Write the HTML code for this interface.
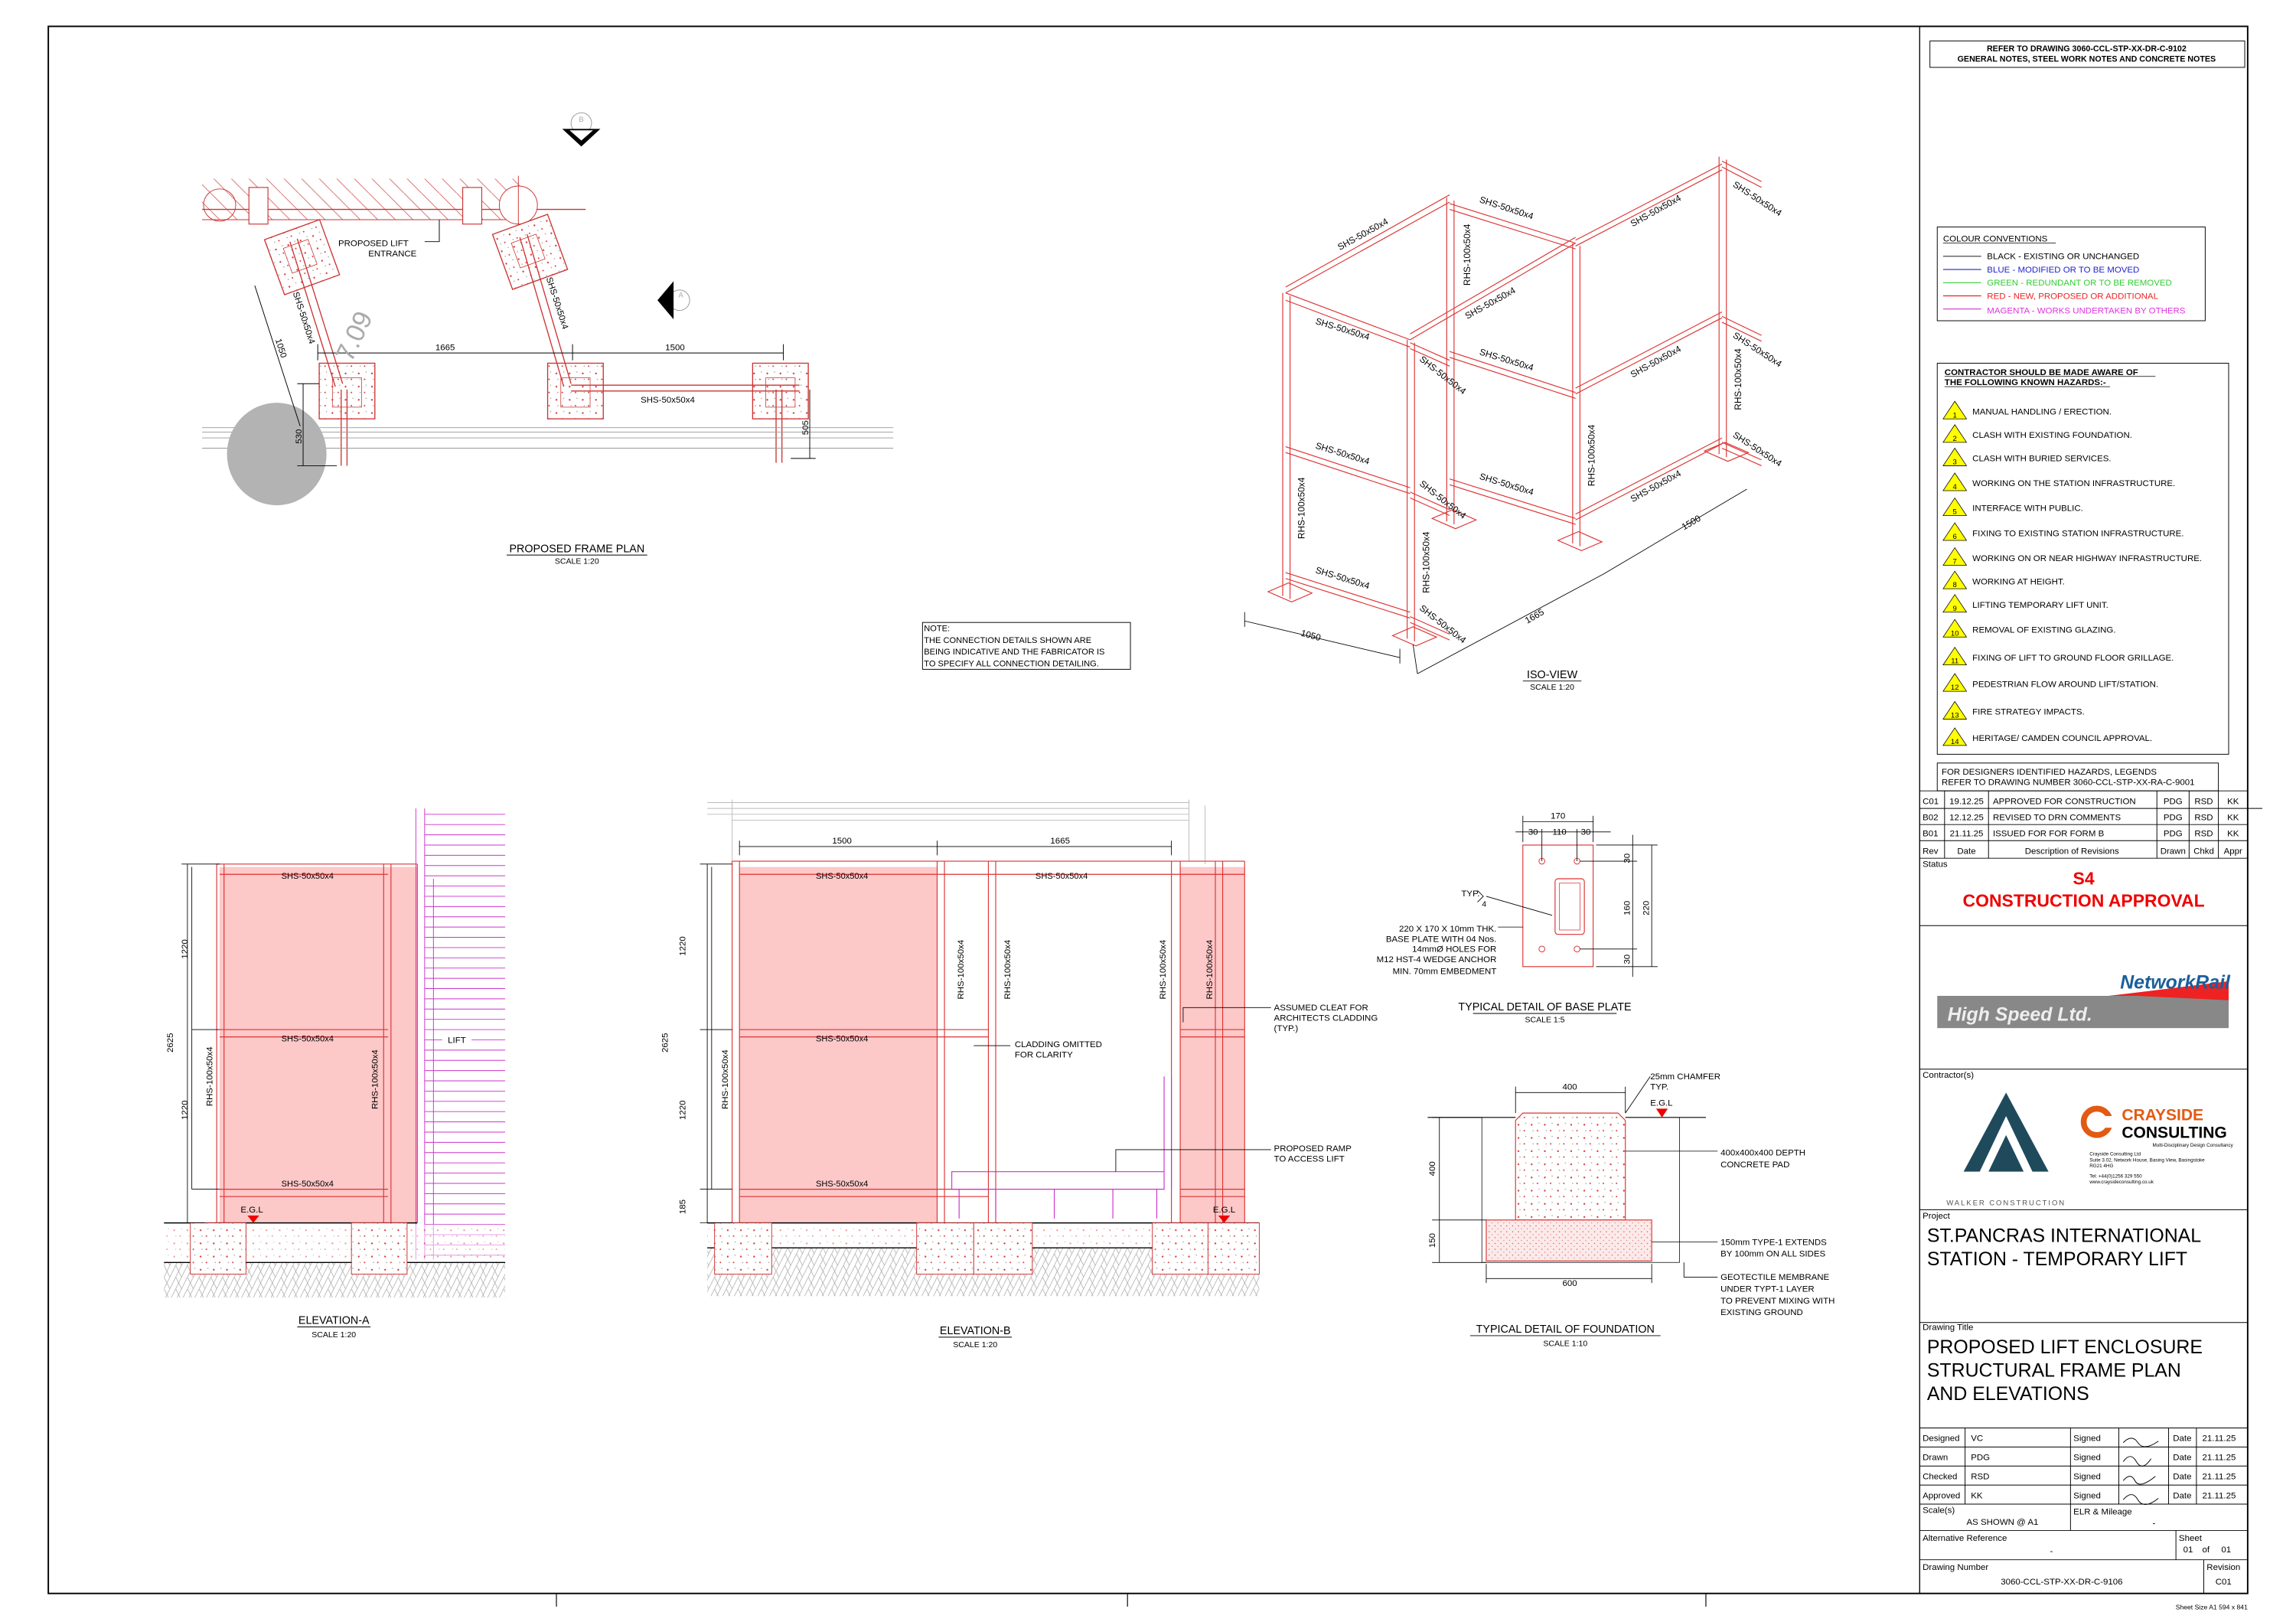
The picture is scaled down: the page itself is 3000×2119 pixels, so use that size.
<!DOCTYPE html>
<html><head><meta charset="utf-8"><style>
html,body{margin:0;padding:0;background:#fff}
svg{display:block}
text{font-family:"Liberation Sans",sans-serif}
</style></head><body>
<svg width="3000" height="2119" viewBox="0 0 1568 1107.5" preserveAspectRatio="none" xmlns="http://www.w3.org/2000/svg">
<defs>
<pattern id="hatch" width="8" height="8" patternUnits="userSpaceOnUse"><path d="M0 8L4 0M4 8L8 0M0 0L4 8" stroke="#aaa" stroke-width="0.4" fill="none"/></pattern>
<pattern id="conc" width="9" height="9" patternUnits="userSpaceOnUse"><rect width="9" height="9" fill="#fff"/><circle cx="2" cy="3" r="0.6" fill="#d33"/><circle cx="6" cy="7" r="0.5" fill="#d33"/><circle cx="7" cy="2" r="0.4" fill="#999"/><circle cx="3" cy="7" r="0.4" fill="#999"/></pattern>
<pattern id="fine" width="4" height="4" patternUnits="userSpaceOnUse"><rect width="4" height="4" fill="#fbeaea"/><circle cx="1" cy="1" r="0.4" fill="#d55"/><circle cx="3" cy="3" r="0.3" fill="#d55"/></pattern>
<pattern id="whatch" width="12" height="12" patternUnits="userSpaceOnUse"><path d="M0 0L12 12" stroke="#c44" stroke-width="0.5"/></pattern>
</defs>
<rect width="1568" height="1107.5" fill="#fff"/>
<!-- main border -->
<rect x="33" y="18" width="1502" height="1070" fill="none" stroke="#000" stroke-width="1"/>
<line x1="1311" y1="18" x2="1311" y2="1088" stroke="#000" stroke-width="0.7"/>
<g stroke="#000" stroke-width="0.6"><line x1="380" y1="1088" x2="380" y2="1097"/><line x1="770" y1="1088" x2="770" y2="1097"/><line x1="1165" y1="1088" x2="1165" y2="1097"/></g>
<text x="1535" y="1099" font-size="4.5" text-anchor="end">Sheet Size A1 594 x 841</text>

<!-- ========== PLAN ========== -->
<g>
<rect x="138" y="122" width="217" height="28" fill="url(#whatch)" opacity="0.8"/>
<line x1="138" y1="143" x2="400" y2="143" stroke="#c33" stroke-width="0.7"/>
<line x1="138" y1="150" x2="355" y2="150" stroke="#c33" stroke-width="0.5"/>
<circle cx="150" cy="140" r="11" fill="none" stroke="#c33" stroke-width="0.5"/>
<circle cx="354" cy="140" r="13" fill="#fff" stroke="#c33" stroke-width="0.5"/>
<rect x="170" y="128" width="13" height="25" fill="#fff" stroke="#c33" stroke-width="0.6"/>
<rect x="316" y="128" width="13" height="25" fill="#fff" stroke="#c33" stroke-width="0.6"/>
<line x1="354" y1="120" x2="354" y2="160" stroke="#c33" stroke-width="0.5"/>
<g transform="rotate(-20 205 175)"><rect x="186" y="156" width="40" height="40" fill="url(#conc)" stroke="#c33" stroke-width="0.7"/><rect x="196" y="166" width="18" height="18" fill="none" stroke="#c33" stroke-width="0.4"/></g>
<g transform="rotate(-20 362 172)"><rect x="342" y="152" width="40" height="40" fill="url(#conc)" stroke="#c33" stroke-width="0.7"/><rect x="352" y="162" width="18" height="18" fill="none" stroke="#c33" stroke-width="0.4"/></g>
<rect x="218" y="248" width="38" height="38" fill="url(#conc)" stroke="#c33" stroke-width="0.7"/>
<rect x="227" y="258" width="20" height="20" fill="none" stroke="#c33" stroke-width="0.4"/>
<rect x="374" y="248" width="38" height="38" fill="url(#conc)" stroke="#c33" stroke-width="0.7"/>
<rect x="383" y="258" width="20" height="20" fill="none" stroke="#c33" stroke-width="0.4"/>
<rect x="514" y="248" width="38" height="38" fill="url(#conc)" stroke="#c33" stroke-width="0.7"/>
<rect x="523" y="258" width="20" height="20" fill="none" stroke="#c33" stroke-width="0.4"/>
<g stroke="#c33" stroke-width="0.7" fill="none">
<line x1="198" y1="165" x2="229" y2="264"/><line x1="203" y1="163" x2="234" y2="262"/>
<line x1="355" y1="162" x2="385" y2="264"/><line x1="360" y1="160" x2="390" y2="262"/>
<line x1="390" y1="263" x2="546" y2="263"/><line x1="390" y1="267" x2="546" y2="267"/>
<line x1="233" y1="266" x2="233" y2="318"/><line x1="237" y1="266" x2="237" y2="318"/>
<line x1="530" y1="266" x2="530" y2="316"/><line x1="534" y1="266" x2="534" y2="316"/>
</g>
<g stroke="#999" stroke-width="0.5"><line x1="138" y1="292" x2="610" y2="292"/><line x1="138" y1="295" x2="610" y2="295"/><line x1="138" y1="299" x2="610" y2="299"/><line x1="138" y1="306" x2="610" y2="306"/></g>
<ellipse cx="189" cy="310" rx="34" ry="35" fill="#b3b3b3"/>
<g stroke="#000" stroke-width="0.5" fill="none">
<line x1="217" y1="241" x2="535" y2="241"/><line x1="217" y1="235" x2="217" y2="246"/><line x1="391" y1="235" x2="391" y2="246"/><line x1="535" y1="235" x2="535" y2="246"/>
<line x1="174" y1="195" x2="205" y2="291"/>
<line x1="207" y1="262" x2="207" y2="318"/><line x1="203" y1="262" x2="218" y2="262"/><line x1="203" y1="318" x2="230" y2="318"/>
<line x1="553" y1="266" x2="553" y2="313"/><line x1="540" y1="313" x2="557" y2="313"/>
</g>
<text x="304" y="239" font-size="6" text-anchor="middle">1665</text>
<text x="461" y="239" font-size="6" text-anchor="middle">1500</text>
<text x="188" y="232" font-size="6" transform="rotate(72 188 232)">1050</text>
<text x="206" y="298" font-size="6" transform="rotate(-90 206 298)" text-anchor="middle">530</text>
<text x="552" y="292" font-size="6" transform="rotate(-90 552 292)" text-anchor="middle">505</text>
<text x="200" y="200" font-size="6" transform="rotate(72 200 200)">SHS-50x50x4</text>
<text x="373" y="190" font-size="6" transform="rotate(72 373 190)">SHS-50x50x4</text>
<text x="456" y="275" font-size="6" text-anchor="middle">SHS-50x50x4</text>
<text x="255" y="168" font-size="6" text-anchor="middle">PROPOSED LIFT</text>
<text x="268" y="175" font-size="6" text-anchor="middle">ENTRANCE</text>
<path d="M290 165H300V150" stroke="#000" stroke-width="0.5" fill="none"/>
<text x="240" y="248" font-size="18" fill="#aaa" transform="rotate(-65 240 248)">7.09</text>
<circle cx="397" cy="84" r="7" fill="none" stroke="#999" stroke-width="0.5"/>
<path d="M384 88L410 88L397 100Z" fill="#000"/><path d="M389 89L405 89L397 96Z" fill="#fff"/>
<text x="397" y="83" font-size="5" text-anchor="middle" fill="#aaa">B</text>
<circle cx="464" cy="205" r="7" fill="none" stroke="#999" stroke-width="0.5"/>
<path d="M460 192L460 218L449 205Z" fill="#000"/>
<text x="465" y="203" font-size="5" text-anchor="middle" fill="#aaa">A</text>
<text x="394" y="377" font-size="7.5" text-anchor="middle">PROPOSED FRAME PLAN</text>
<line x1="346" y1="379" x2="442" y2="379" stroke="#000" stroke-width="0.5"/>
<text x="394" y="385" font-size="5.5" text-anchor="middle">SCALE 1:20</text>
</g>

<!-- NOTE -->
<g>
<rect x="630" y="425" width="142" height="32" fill="none" stroke="#000" stroke-width="0.5"/>
<text font-size="5.8"><tspan x="631" y="431">NOTE:</tspan><tspan x="631" y="439">THE CONNECTION DETAILS SHOWN ARE</tspan><tspan x="631" y="447">BEING INDICATIVE AND THE FABRICATOR IS</tspan><tspan x="631" y="455">TO SPECIFY ALL CONNECTION DETAILING.</tspan></text>
</g>

<!-- ========== ISO VIEW ========== -->
<g stroke="#d33" stroke-width="0.6" fill="none">
<!-- posts -->
<path d="M876 200V407M881 202V409"/>
<path d="M961 232V436M966 234V438"/>
<path d="M988 135V356M993 137V358"/>
<path d="M1074 166V371M1079 168V373"/>
<path d="M1174 107V310M1179 109V312"/>
<!-- face A-B rails -->
<path d="M878 200L963 232M878 205L963 237"/>
<path d="M878 305L963 333M878 309L963 337"/>
<path d="M878 391L963 418M878 395L963 422"/>
<!-- A-C top -->
<path d="M878 200L990 138M878 196L990 133"/>
<!-- C-D rails -->
<path d="M990 139L1076 166M990 143L1076 170"/>
<path d="M990 240L1076 268M990 244L1076 272"/>
<path d="M990 327L1076 354M990 331L1076 358"/>
<!-- B-D top -->
<path d="M963 232L1076 166M963 228L1076 162"/>
<!-- D-E rails -->
<path d="M1076 164L1176 112M1076 168L1176 116"/>
<path d="M1076 265L1176 213M1076 269L1176 217"/>
<path d="M1076 351L1176 299M1076 355L1176 303"/>
<!-- stubs -->
<path d="M1176 110L1203 124M1176 114L1203 128"/>
<path d="M1176 216L1203 229M1176 220L1203 233"/>
<path d="M1176 302L1203 314M1176 306L1203 318"/>
<path d="M963 234L990 246M963 238L990 250"/>
<path d="M963 336L990 348M963 340L990 352"/>
<path d="M963 421L990 433M963 425L990 437"/>
<!-- base plates -->
<path d="M866 404L880 398L896 405L882 411Z"/>
<path d="M951 434L965 428L981 435L967 441Z"/>
<path d="M978 354L992 348L1008 355L994 361Z"/>
<path d="M1064 369L1078 363L1094 370L1080 376Z"/>
<path d="M1164 308L1178 302L1194 309L1180 315Z"/>
</g>
<g stroke="#000" stroke-width="0.45" fill="none">
<path d="M850 424L956 449"/><path d="M850 418L850 428M956 443L956 453"/>
<path d="M968 460L1095 392M1095 392L1193 334"/><path d="M965 440L968 460"/>
</g>
<g font-size="6.2" fill="#000">
<text x="915" y="171" transform="rotate(-29 915 171)">SHS-50x50x4</text>
<text x="1010" y="138" transform="rotate(18 1010 138)">SHS-50x50x4</text>
<text x="1115" y="155" transform="rotate(-29 1115 155)">SHS-50x50x4</text>
<text x="1183" y="127" transform="rotate(33 1183 127)">SHS-50x50x4</text>
<text x="898" y="221" transform="rotate(17 898 221)">SHS-50x50x4</text>
<text x="1002" y="218" transform="rotate(-29 1002 218)">SHS-50x50x4</text>
<text x="969" y="246" transform="rotate(38 969 246)">SHS-50x50x4</text>
<text x="1010" y="242" transform="rotate(17 1010 242)">SHS-50x50x4</text>
<text x="1115" y="258" transform="rotate(-29 1115 258)">SHS-50x50x4</text>
<text x="1183" y="230" transform="rotate(33 1183 230)">SHS-50x50x4</text>
<text x="898" y="306" transform="rotate(17 898 306)">SHS-50x50x4</text>
<text x="969" y="331" transform="rotate(38 969 331)">SHS-50x50x4</text>
<text x="1010" y="327" transform="rotate(17 1010 327)">SHS-50x50x4</text>
<text x="1115" y="343" transform="rotate(-29 1115 343)">SHS-50x50x4</text>
<text x="1183" y="298" transform="rotate(33 1183 298)">SHS-50x50x4</text>
<text x="898" y="391" transform="rotate(17 898 391)">SHS-50x50x4</text>
<text x="969" y="416" transform="rotate(38 969 416)">SHS-50x50x4</text>
<text x="1004" y="195" transform="rotate(-90 1004 195)">RHS-100x50x4</text>
<text x="891" y="368" transform="rotate(-90 891 368)">RHS-100x50x4</text>
<text x="976" y="405" transform="rotate(-90 976 405)">RHS-100x50x4</text>
<text x="1089" y="332" transform="rotate(-90 1089 332)">RHS-100x50x4</text>
<text x="1189" y="280" transform="rotate(-90 1189 280)">RHS-100x50x4</text>
<text x="888" y="434" transform="rotate(15 888 434)">1050</text>
<text x="1043" y="426" transform="rotate(-30 1043 426)">1665</text>
<text x="1150" y="362" transform="rotate(-30 1150 362)">1500</text>
</g>
<text x="1060" y="463" font-size="7.5" text-anchor="middle">ISO-VIEW</text>
<line x1="1040" y1="465" x2="1080" y2="465" stroke="#000" stroke-width="0.5"/>
<text x="1060" y="471" font-size="5.5" text-anchor="middle">SCALE 1:20</text>

<!-- ========== ELEVATION A ========== -->
<g>
<rect x="150" y="592" width="135" height="243" fill="#fcc8c8"/>
<g stroke="#d33" stroke-width="0.6" fill="none">
<path d="M148 590V835M153 590V835M262 590V835M267 590V835M285 590V835"/>
<path d="M148 590H285M150 597H265M150 703H265M150 708H265M150 812H265M150 817H265"/>
</g>
<g stroke="#c3c" stroke-width="0.5">
<path d="M284 552V860M290 552V860M296 600V860"/>
<path d="M290 556H345M290 563H345M290 570H345M290 577H345M290 584H345M290 591H345M290 598H345M290 605H345M290 612H345M290 619H345M290 626H345M290 633H345M290 640H345M290 647H345M290 654H345M290 661H345M290 668H345M290 675H345M290 682H345M290 689H345M290 696H345M290 703H345M290 710H345M290 717H345M290 724H345M290 731H345M290 738H345M290 745H345M290 752H345M290 759H345M290 766H345M290 773H345M290 780H345M290 787H345M290 794H345M290 801H345M290 808H345M290 815H345M290 822H345M290 829H345M290 836H345M290 843H345M290 850H345M290 857H345"/>
</g>
<rect x="112" y="862" width="233" height="24" fill="url(#hatch)"/>
<rect x="112" y="836" width="233" height="26" fill="url(#conc)" opacity="0.5"/>
<line x1="112" y1="835" x2="285" y2="835" stroke="#000" stroke-width="0.8"/>
<line x1="112" y1="862" x2="345" y2="862" stroke="#000" stroke-width="0.7"/>
<rect x="130" y="835" width="38" height="35" fill="url(#conc)" stroke="#c33" stroke-width="0.5"/>
<rect x="240" y="835" width="38" height="35" fill="url(#conc)" stroke="#c33" stroke-width="0.5"/>
<g stroke="#000" stroke-width="0.45"><path d="M128 590V835M124 590H150M124 835H140M131 703H150M131 812H150M128 590L128 835M131 592V812"/></g>
<rect x="302" y="706" width="20" height="8" fill="#fff"/><text x="312" y="712" font-size="6" text-anchor="middle">LIFT</text>
<g font-size="5.8"><text x="210" y="600" text-anchor="middle">SHS-50x50x4</text><text x="210" y="711" text-anchor="middle">SHS-50x50x4</text><text x="210" y="810" text-anchor="middle">SHS-50x50x4</text></g>
<g font-size="6"><text x="118" y="712" transform="rotate(-90 118 712)" text-anchor="middle">2625</text><text x="128" y="648" transform="rotate(-90 128 648)" text-anchor="middle">1220</text><text x="128" y="758" transform="rotate(-90 128 758)" text-anchor="middle">1220</text>
<text x="145" y="735" transform="rotate(-90 145 735)" text-anchor="middle">RHS-100x50x4</text><text x="258" y="737" transform="rotate(-90 258 737)" text-anchor="middle">RHS-100x50x4</text></g>
<text x="172" y="828" font-size="6" text-anchor="middle">E.G.L</text><path d="M169 830H177L173 835Z" fill="#e00"/>
<text x="228" y="904" font-size="7.5" text-anchor="middle">ELEVATION-A</text>
<line x1="203" y1="906" x2="253" y2="906" stroke="#000" stroke-width="0.5"/>
<text x="228" y="913" font-size="5.5" text-anchor="middle">SCALE 1:20</text>
</g>

<!-- ========== ELEVATION B ========== -->
<g>
<g stroke="#bbb" stroke-width="0.5" fill="none"><path d="M483 548H812M483 552H812M483 556H812M500 560H812M500 546V588M812 546V588M823 550V590"/></g>
<rect x="505" y="592" width="135" height="243" fill="#fcc8c8"/>
<rect x="806" y="592" width="44" height="243" fill="#fcc8c8"/>
<g stroke="#d33" stroke-width="0.6" fill="none">
<path d="M500 588V835M505 588V835M640 588V835M645 588V835M675 588V835M680 588V835M800 588V835M806 588V835M830 588V835M835 588V835M850 588V835"/>
<path d="M500 588H850M505 597H850M505 703H675M505 708H675M806 703H850M806 708H850M505 812H675M505 817H675M806 812H850M806 817H850"/>
</g>
<g stroke="#c3c" stroke-width="0.6" fill="none"><path d="M650 800H795V812H650ZM655 812V832M680 812V832M720 812V832M760 812V832M790 812V832M795 735V812M800 735V812"/></g>
<rect x="483" y="852" width="377" height="33" fill="url(#hatch)"/>
<rect x="483" y="836" width="377" height="16" fill="url(#conc)" opacity="0.5"/>
<line x1="483" y1="835" x2="860" y2="835" stroke="#000" stroke-width="0.8"/>
<line x1="483" y1="852" x2="860" y2="852" stroke="#000" stroke-width="0.7"/>
<g fill="url(#conc)" stroke="#c33" stroke-width="0.5"><rect x="488" y="835" width="39" height="35"/><rect x="626" y="835" width="39" height="35"/><rect x="665" y="835" width="40" height="35"/><rect x="787" y="835" width="38" height="35"/><rect x="825" y="835" width="35" height="35"/></g>
<g stroke="#000" stroke-width="0.45" fill="none"><path d="M505 578H800M505 574V584M640 574V584M800 574V584M483 590V835M478 590H500M478 703H500M478 812H500M478 835H500M486 592V812"/></g>
<g font-size="6"><text x="575" y="576" text-anchor="middle">1500</text><text x="724" y="576" text-anchor="middle">1665</text>
<text x="456" y="712" transform="rotate(-90 456 712)" text-anchor="middle">2625</text>
<text x="468" y="646" transform="rotate(-90 468 646)" text-anchor="middle">1220</text>
<text x="468" y="758" transform="rotate(-90 468 758)" text-anchor="middle">1220</text>
<text x="468" y="824" transform="rotate(-90 468 824)" text-anchor="middle">185</text>
<text x="497" y="737" transform="rotate(-90 497 737)" text-anchor="middle">RHS-100x50x4</text>
<text x="658" y="662" transform="rotate(-90 658 662)" text-anchor="middle">RHS-100x50x4</text>
<text x="690" y="662" transform="rotate(-90 690 662)" text-anchor="middle">RHS-100x50x4</text>
<text x="796" y="662" transform="rotate(-90 796 662)" text-anchor="middle">RHS-100x50x4</text>
<text x="828" y="662" transform="rotate(-90 828 662)" text-anchor="middle">RHS-100x50x4</text>
</g>
<g font-size="5.8"><text x="575" y="600" text-anchor="middle">SHS-50x50x4</text><text x="725" y="600" text-anchor="middle">SHS-50x50x4</text><text x="575" y="711" text-anchor="middle">SHS-50x50x4</text><text x="575" y="810" text-anchor="middle">SHS-50x50x4</text></g>
<g stroke="#000" stroke-width="0.45" fill="none"><path d="M690 714H665M868 688H808V698M868 785H762V800"/></g>
<g font-size="6"><text x="693" y="715">CLADDING OMITTED</text><text x="693" y="722">FOR CLARITY</text>
<text x="870" y="690">ASSUMED CLEAT FOR</text><text x="870" y="697">ARCHITECTS CLADDING</text><text x="870" y="704">(TYP.)</text>
<text x="870" y="786">PROPOSED RAMP</text><text x="870" y="793">TO ACCESS LIFT</text></g>
<text x="836" y="828" font-size="6" text-anchor="middle">E.G.L</text><path d="M832 830H840L836 835Z" fill="#e00"/>
<text x="666" y="911" font-size="7.5" text-anchor="middle">ELEVATION-B</text>
<line x1="641" y1="913" x2="691" y2="913" stroke="#000" stroke-width="0.5"/>
<text x="666" y="920" font-size="5.5" text-anchor="middle">SCALE 1:20</text>
</g>

<!-- ========== BASE PLATE ========== -->
<g>
<rect x="1040" y="577" width="48" height="83" fill="none" stroke="#d33" stroke-width="0.6"/>
<rect x="1062" y="600" width="20" height="38" rx="2" fill="none" stroke="#d33" stroke-width="0.6"/>
<rect x="1065" y="603" width="14" height="32" fill="none" stroke="#d33" stroke-width="0.4"/>
<g fill="none" stroke="#d33" stroke-width="0.5"><circle cx="1053" cy="588" r="2"/><circle cx="1077" cy="588" r="2"/><circle cx="1053" cy="648" r="2"/><circle cx="1077" cy="648" r="2"/></g>
<g stroke="#000" stroke-width="0.45" fill="none"><path d="M1040 561H1088M1040 557V575M1088 557V575M1035 568H1100M1053 566V588M1077 566V588M1115 577V660M1128 577V660M1090 577H1132M1090 660H1132M1079 588H1118M1079 648H1118M1115 570V667M1023 633H1040M1015 612L1060 625M1009 608L1013 612L1009 616"/></g>
<g font-size="6" text-anchor="middle"><text x="1064" y="559">170</text><text x="1047" y="570">30</text><text x="1065" y="570">110</text><text x="1083" y="570">30</text>
<text x="1113" y="586" transform="rotate(-90 1113 586)">30</text><text x="1113" y="620" transform="rotate(-90 1113 620)">160</text><text x="1113" y="655" transform="rotate(-90 1113 655)">30</text><text x="1126" y="620" transform="rotate(-90 1126 620)">220</text></g>
<text x="998" y="612" font-size="6">TYP.</text><text x="1012" y="619" font-size="5.5">4</text>
<g font-size="6" text-anchor="end"><text x="1022" y="636">220 X 170 X 10mm THK.</text><text x="1022" y="643">BASE PLATE WITH 04 Nos.</text><text x="1022" y="650">14mmØ HOLES FOR</text><text x="1022" y="657">M12 HST-4 WEDGE ANCHOR</text><text x="1022" y="665">MIN. 70mm EMBEDMENT</text></g>
<text x="1055" y="690" font-size="7.5" text-anchor="middle">TYPICAL DETAIL OF BASE PLATE</text>
<line x1="1006" y1="692" x2="1104" y2="692" stroke="#000" stroke-width="0.5"/>
<text x="1055" y="698" font-size="5.5" text-anchor="middle">SCALE 1:5</text>
</g>

<!-- ========== FOUNDATION ========== -->
<g>
<path d="M1040 760H1105L1110 765V833H1035V765Z" fill="url(#conc)" stroke="#d33" stroke-width="0.6"/>
<rect x="1015" y="833" width="113" height="28" fill="url(#fine)" stroke="#d33" stroke-width="0.6"/>
<g stroke="#000" stroke-width="0.6" fill="none"><path d="M975 763H1035M1110 763H1165"/><path d="M1012 763V862H1128M1147 763V862H1128" stroke-width="0.4"/></g>
<g stroke="#000" stroke-width="0.45" fill="none"><path d="M1035 746H1110M1035 742V760M1110 742V760M1015 873H1128M1015 863V876M1128 863V876M983 763V862M978 763H1012M978 833H1015M978 862H1015M1173 786H1110M1173 848H1128M1173 872H1150V862M1127 735L1110 760"/></g>
<g font-size="6" text-anchor="middle"><text x="1072" y="744">400</text><text x="1072" y="878">600</text><text x="980" y="798" transform="rotate(-90 980 798)">400</text><text x="980" y="847" transform="rotate(-90 980 847)">150</text></g>
<g font-size="6"><text x="1127" y="737">25mm CHAMFER</text><text x="1127" y="744">TYP.</text><text x="1127" y="755">E.G.L</text>
<text x="1175" y="789">400x400x400 DEPTH</text><text x="1175" y="797">CONCRETE PAD</text>
<text x="1175" y="850">150mm TYPE-1 EXTENDS</text><text x="1175" y="858">BY 100mm ON ALL SIDES</text>
<text x="1175" y="874">GEOTECTILE MEMBRANE</text><text x="1175" y="882">UNDER TYPT-1 LAYER</text><text x="1175" y="890">TO PREVENT MIXING WITH</text><text x="1175" y="898">EXISTING GROUND</text></g>
<path d="M1131 757H1139L1135 763Z" fill="#e00"/>
<text x="1069" y="910" font-size="7.5" text-anchor="middle">TYPICAL DETAIL OF FOUNDATION</text>
<line x1="1004" y1="912" x2="1134" y2="912" stroke="#000" stroke-width="0.5"/>
<text x="1069" y="919" font-size="5.5" text-anchor="middle">SCALE 1:10</text>
</g>

<!-- ========== TITLE BLOCK ========== -->
<g>
<rect x="1318" y="28" width="215" height="18" fill="none" stroke="#000" stroke-width="0.5"/>
<text x="1425" y="35" font-size="5.6" font-weight="bold" text-anchor="middle">REFER TO DRAWING 3060-CCL-STP-XX-DR-C-9102</text>
<text x="1425" y="42" font-size="5.6" font-weight="bold" text-anchor="middle">GENERAL NOTES, STEEL WORK NOTES AND CONCRETE NOTES</text>

<rect x="1323" y="155" width="183" height="64" fill="none" stroke="#000" stroke-width="0.5"/>
<text x="1327" y="165" font-size="6">COLOUR CONVENTIONS</text><line x1="1327" y1="166" x2="1404" y2="166" stroke="#000" stroke-width="0.4"/>
<g stroke-width="0.6"><line x1="1327" y1="175" x2="1353" y2="175" stroke="#333"/><line x1="1327" y1="184" x2="1353" y2="184" stroke="#22c"/><line x1="1327" y1="193" x2="1353" y2="193" stroke="#3c3"/><line x1="1327" y1="202" x2="1353" y2="202" stroke="#e22"/><line x1="1327" y1="211" x2="1353" y2="211" stroke="#c3c"/></g>
<g font-size="6"><text x="1357" y="177">BLACK - EXISTING OR UNCHANGED</text><text x="1357" y="186" fill="#22c">BLUE - MODIFIED OR TO BE MOVED</text><text x="1357" y="195" fill="#3c3">GREEN - REDUNDANT OR TO BE REMOVED</text><text x="1357" y="204" fill="#e22">RED - NEW, PROPOSED OR ADDITIONAL</text><text x="1357" y="214" fill="#d3d">MAGENTA - WORKS UNDERTAKEN BY OTHERS</text></g>

<rect x="1323" y="248" width="199" height="267" fill="none" stroke="#000" stroke-width="0.5"/>
<text x="1328" y="256" font-size="6" font-weight="bold">CONTRACTOR SHOULD BE MADE AWARE OF</text>
<text x="1328" y="263" font-size="6" font-weight="bold">THE FOLLOWING KNOWN HAZARDS:-</text>
<line x1="1328" y1="257" x2="1472" y2="257" stroke="#000" stroke-width="0.4"/><line x1="1328" y1="264" x2="1441" y2="264" stroke="#000" stroke-width="0.4"/>
<g font-size="6">
<g transform="translate(0,281)"><path d="M1327 5L1335 -7L1343 5Z" fill="#ff0" stroke="#000" stroke-width="0.4"/><text x="1335" y="4" font-size="5" text-anchor="middle">1</text><text x="1347" y="2">MANUAL HANDLING / ERECTION.</text></g>
<g transform="translate(0,297)"><path d="M1327 5L1335 -7L1343 5Z" fill="#ff0" stroke="#000" stroke-width="0.4"/><text x="1335" y="4" font-size="5" text-anchor="middle">2</text><text x="1347" y="2">CLASH WITH EXISTING FOUNDATION.</text></g>
<g transform="translate(0,313)"><path d="M1327 5L1335 -7L1343 5Z" fill="#ff0" stroke="#000" stroke-width="0.4"/><text x="1335" y="4" font-size="5" text-anchor="middle">3</text><text x="1347" y="2">CLASH WITH BURIED SERVICES.</text></g>
<g transform="translate(0,330)"><path d="M1327 5L1335 -7L1343 5Z" fill="#ff0" stroke="#000" stroke-width="0.4"/><text x="1335" y="4" font-size="5" text-anchor="middle">4</text><text x="1347" y="2">WORKING ON THE STATION INFRASTRUCTURE.</text></g>
<g transform="translate(0,347)"><path d="M1327 5L1335 -7L1343 5Z" fill="#ff0" stroke="#000" stroke-width="0.4"/><text x="1335" y="4" font-size="5" text-anchor="middle">5</text><text x="1347" y="2">INTERFACE WITH PUBLIC.</text></g>
<g transform="translate(0,364)"><path d="M1327 5L1335 -7L1343 5Z" fill="#ff0" stroke="#000" stroke-width="0.4"/><text x="1335" y="4" font-size="5" text-anchor="middle">6</text><text x="1347" y="2">FIXING TO EXISTING STATION INFRASTRUCTURE.</text></g>
<g transform="translate(0,381)"><path d="M1327 5L1335 -7L1343 5Z" fill="#ff0" stroke="#000" stroke-width="0.4"/><text x="1335" y="4" font-size="5" text-anchor="middle">7</text><text x="1347" y="2">WORKING ON OR NEAR HIGHWAY INFRASTRUCTURE.</text></g>
<g transform="translate(0,397)"><path d="M1327 5L1335 -7L1343 5Z" fill="#ff0" stroke="#000" stroke-width="0.4"/><text x="1335" y="4" font-size="5" text-anchor="middle">8</text><text x="1347" y="2">WORKING AT HEIGHT.</text></g>
<g transform="translate(0,413)"><path d="M1327 5L1335 -7L1343 5Z" fill="#ff0" stroke="#000" stroke-width="0.4"/><text x="1335" y="4" font-size="5" text-anchor="middle">9</text><text x="1347" y="2">LIFTING TEMPORARY LIFT UNIT.</text></g>
<g transform="translate(0,430)"><path d="M1327 5L1335 -7L1343 5Z" fill="#ff0" stroke="#000" stroke-width="0.4"/><text x="1335" y="4" font-size="5" text-anchor="middle">10</text><text x="1347" y="2">REMOVAL OF EXISTING GLAZING.</text></g>
<g transform="translate(0,449)"><path d="M1327 5L1335 -7L1343 5Z" fill="#ff0" stroke="#000" stroke-width="0.4"/><text x="1335" y="4" font-size="5" text-anchor="middle">11</text><text x="1347" y="2">FIXING OF LIFT TO GROUND FLOOR GRILLAGE.</text></g>
<g transform="translate(0,467)"><path d="M1327 5L1335 -7L1343 5Z" fill="#ff0" stroke="#000" stroke-width="0.4"/><text x="1335" y="4" font-size="5" text-anchor="middle">12</text><text x="1347" y="2">PEDESTRIAN FLOW AROUND LIFT/STATION.</text></g>
<g transform="translate(0,486)"><path d="M1327 5L1335 -7L1343 5Z" fill="#ff0" stroke="#000" stroke-width="0.4"/><text x="1335" y="4" font-size="5" text-anchor="middle">13</text><text x="1347" y="2">FIRE STRATEGY IMPACTS.</text></g>
<g transform="translate(0,504)"><path d="M1327 5L1335 -7L1343 5Z" fill="#ff0" stroke="#000" stroke-width="0.4"/><text x="1335" y="4" font-size="5" text-anchor="middle">14</text><text x="1347" y="2">HERITAGE/ CAMDEN COUNCIL APPROVAL.</text></g>
</g>

<rect x="1323" y="521" width="192" height="19" fill="none" stroke="#000" stroke-width="0.5"/>
<text x="1326" y="529" font-size="6">FOR DESIGNERS IDENTIFIED HAZARDS, LEGENDS</text>
<text x="1326" y="536" font-size="6">REFER TO DRAWING NUMBER 3060-CCL-STP-XX-RA-C-9001</text>

<g stroke="#000" stroke-width="0.5" fill="none">
<path d="M1311 540H1535M1311 552H1545M1311 563H1535M1311 574H1535M1311 586H1535"/>
<path d="M1328 540V586M1358 540V586M1473 540V586M1495 540V586M1515 540V586"/>
</g>
<g font-size="6">
<text x="1313" y="549">C01</text><text x="1360" y="549">19.12.25</text><text x="1361" y="549" dx="0"></text>
<text x="1313" y="560">B02</text><text x="1313" y="571">B01</text>
<text x="1343" y="549" text-anchor="middle">19.12.25</text><text x="1343" y="560" text-anchor="middle">12.12.25</text><text x="1343" y="571" text-anchor="middle">21.11.25</text>
<text x="1361" y="560">REVISED TO DRN COMMENTS</text><text x="1361" y="571">ISSUED FOR FOR FORM B</text>
<text x="1484" y="549" text-anchor="middle">PDG</text><text x="1505" y="549" text-anchor="middle">RSD</text><text x="1525" y="549" text-anchor="middle">KK</text>
<text x="1484" y="560" text-anchor="middle">PDG</text><text x="1505" y="560" text-anchor="middle">RSD</text><text x="1525" y="560" text-anchor="middle">KK</text>
<text x="1484" y="571" text-anchor="middle">PDG</text><text x="1505" y="571" text-anchor="middle">RSD</text><text x="1525" y="571" text-anchor="middle">KK</text>
<text x="1313" y="583">Rev</text><text x="1343" y="583" text-anchor="middle">Date</text><text x="1415" y="583" text-anchor="middle">Description of Revisions</text>
<text x="1484" y="583" text-anchor="middle">Drawn</text><text x="1505" y="583" text-anchor="middle">Chkd</text><text x="1525" y="583" text-anchor="middle">Appr</text>
<text x="1313" y="592">Status</text>
</g>
<rect x="1359" y="544" width="30" height="6" fill="#fff"/>
<text x="1361" y="549" font-size="6">APPROVED FOR CONSTRUCTION</text>
<text x="1423" y="604" font-size="12" font-weight="bold" fill="#e00" text-anchor="middle">S4</text>
<text x="1423" y="619" font-size="12" font-weight="bold" fill="#e00" text-anchor="middle">CONSTRUCTION APPROVAL</text>
<line x1="1311" y1="632" x2="1535" y2="632" stroke="#000" stroke-width="0.5"/>
<!-- network rail logo -->
<path d="M1323 680H1440L1522 676V702H1323Z" fill="#888"/>
<path d="M1440 680L1522 670V683L1460 680Z" fill="#e22"/>
<text x="1330" y="697" font-size="13" font-style="italic" font-weight="bold" fill="#eee">High Speed Ltd.</text>
<text x="1523" y="675" font-size="13" font-style="italic" font-weight="bold" fill="#1b5f9a" text-anchor="end">NetworkRail</text>
<line x1="1311" y1="730" x2="1535" y2="730" stroke="#000" stroke-width="0.5"/>
<text x="1313" y="736" font-size="6">Contractor(s)</text>
<path d="M1341 800L1370 746L1399 800H1388L1370 762L1352 800Z" fill="#1f4a5c"/>
<path d="M1358 800L1370 775L1382 800Z" fill="#1f4a5c"/>
<text x="1370" y="823" font-size="5" fill="#555" text-anchor="middle" letter-spacing="1">WALKER CONSTRUCTION</text>
<circle cx="1432" cy="766" r="9" fill="none" stroke="#e35a13" stroke-width="4"/>
<rect x="1436" y="762" width="8" height="8" fill="#fff"/>
<text x="1449" y="765" font-size="11" font-weight="bold" fill="#e35a13">CRAYSIDE</text>
<text x="1449" y="777" font-size="11" font-weight="bold">CONSULTING</text>
<g font-size="3.3"><text x="1470" y="783">Multi-Disciplinary Design Consultancy</text><text x="1427" y="789">Crayside Consulting Ltd</text><text x="1427" y="793">Suite 3.02, Network House, Basing View, Basingstoke</text><text x="1427" y="797">RG21 4HG</text><text x="1427" y="804">Tel: +44(0)1256 329 550</text><text x="1427" y="808">www.craysideconsulting.co.uk</text></g>
<line x1="1311" y1="826" x2="1535" y2="826" stroke="#000" stroke-width="0.5"/>
<text x="1313" y="832" font-size="6">Project</text>
<text x="1316" y="848" font-size="13">ST.PANCRAS INTERNATIONAL</text>
<text x="1316" y="864" font-size="13">STATION - TEMPORARY LIFT</text>
<line x1="1311" y1="903" x2="1535" y2="903" stroke="#000" stroke-width="0.5"/>
<text x="1313" y="908" font-size="6">Drawing Title</text>
<text x="1316" y="924" font-size="13">PROPOSED LIFT ENCLOSURE</text>
<text x="1316" y="940" font-size="13">STRUCTURAL FRAME PLAN</text>
<text x="1316" y="956" font-size="13">AND ELEVATIONS</text>
<g stroke="#000" stroke-width="0.5" fill="none">
<path d="M1311 975H1535M1311 988H1535M1311 1001H1535M1311 1014H1535M1311 1027H1535M1311 1045H1535M1311 1065H1535"/>
<path d="M1342 975V1027M1414 975V1045M1447 975V1027M1481 975V1027M1500 975V1027M1486 1045V1065M1505 1065V1088"/>
</g>
<g font-size="6">
<text x="1313" y="984">Designed</text><text x="1346" y="984">VC</text><text x="1416" y="984">Signed</text><text x="1484" y="984">Date</text><text x="1504" y="984">21.11.25</text>
<text x="1313" y="997">Drawn</text><text x="1346" y="997">PDG</text><text x="1416" y="997">Signed</text><text x="1484" y="997">Date</text><text x="1504" y="997">21.11.25</text>
<text x="1313" y="1010">Checked</text><text x="1346" y="1010">RSD</text><text x="1416" y="1010">Signed</text><text x="1484" y="1010">Date</text><text x="1504" y="1010">21.11.25</text>
<text x="1313" y="1023">Approved</text><text x="1346" y="1023">KK</text><text x="1416" y="1023">Signed</text><text x="1484" y="1023">Date</text><text x="1504" y="1023">21.11.25</text>
<text x="1313" y="1033">Scale(s)</text><text x="1343" y="1041">AS SHOWN @ A1</text><text x="1416" y="1034">ELR &amp; Mileage</text><text x="1470" y="1042">-</text>
<text x="1313" y="1052">Alternative Reference</text><text x="1400" y="1061">-</text><text x="1488" y="1052">Sheet</text><text x="1491" y="1060">01</text><text x="1504" y="1060">of</text><text x="1517" y="1060">01</text>
<text x="1313" y="1072">Drawing Number</text><text x="1408" y="1082" text-anchor="middle">3060-CCL-STP-XX-DR-C-9106</text><text x="1507" y="1072">Revision</text><text x="1513" y="1082">C01</text>
</g>
<g stroke="#000" stroke-width="0.5" fill="none"><path d="M1450 985q6 -6 10 0t14 -1M1450 998q5 -7 9 0t10 -2M1450 1011q5 -6 8 0t14 -3M1450 1024q6 -7 10 0t14 -1"/></g>
</g>
</svg>
</body></html>
